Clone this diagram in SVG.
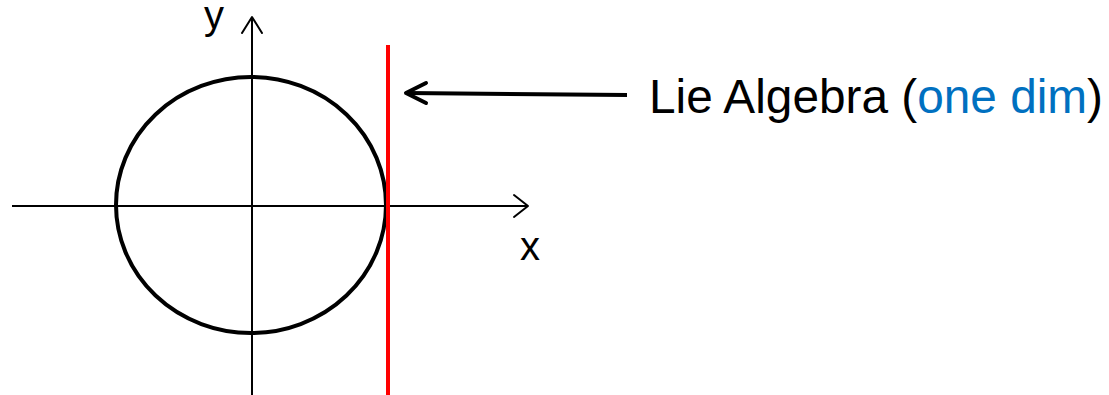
<svg xmlns="http://www.w3.org/2000/svg" width="1109" height="395" viewBox="0 0 1109 395">
<style>
.axis{stroke:#000;stroke-width:2;fill:none}
.head{stroke:#000;stroke-width:2;fill:none;stroke-linecap:round;stroke-linejoin:round}
.lbl{font-family:"Liberation Sans",Arial,sans-serif;fill:#000}
</style>
<rect width="1109" height="395" fill="#fff"/>
<g id="axes">
<line class="axis" x1="12" y1="206" x2="527" y2="206"/>
<polyline class="head" points="514,195 528,206 514,217"/>
<line class="axis" x1="252" y1="395" x2="252" y2="17"/>
<polyline class="head" points="242,33 252,17 262,33"/>
<text class="lbl" x="204" y="29" font-size="40">y</text>
<text class="lbl" x="520" y="260" font-size="40">x</text>
</g>
<g id="circle">
<ellipse cx="251" cy="205" rx="135" ry="128" fill="none" stroke="#000" stroke-width="4"/>
</g>
<g id="tangent">
<line x1="388" y1="45" x2="388" y2="395" stroke="#f00" stroke-width="4"/>
</g>
<g id="connectors">
<line x1="627" y1="95" x2="407" y2="93" stroke="#000" stroke-width="4"/>
<polyline points="426,83 406,93 426,103" fill="none" stroke="#000" stroke-width="4" stroke-linecap="round" stroke-linejoin="round"/>
</g>
<g id="label">
<text class="lbl" x="649" y="113" font-size="48" textLength="454" lengthAdjust="spacingAndGlyphs">Lie Algebra (<tspan fill="#0070c0">one dim</tspan>)</text>
</g>
</svg>
